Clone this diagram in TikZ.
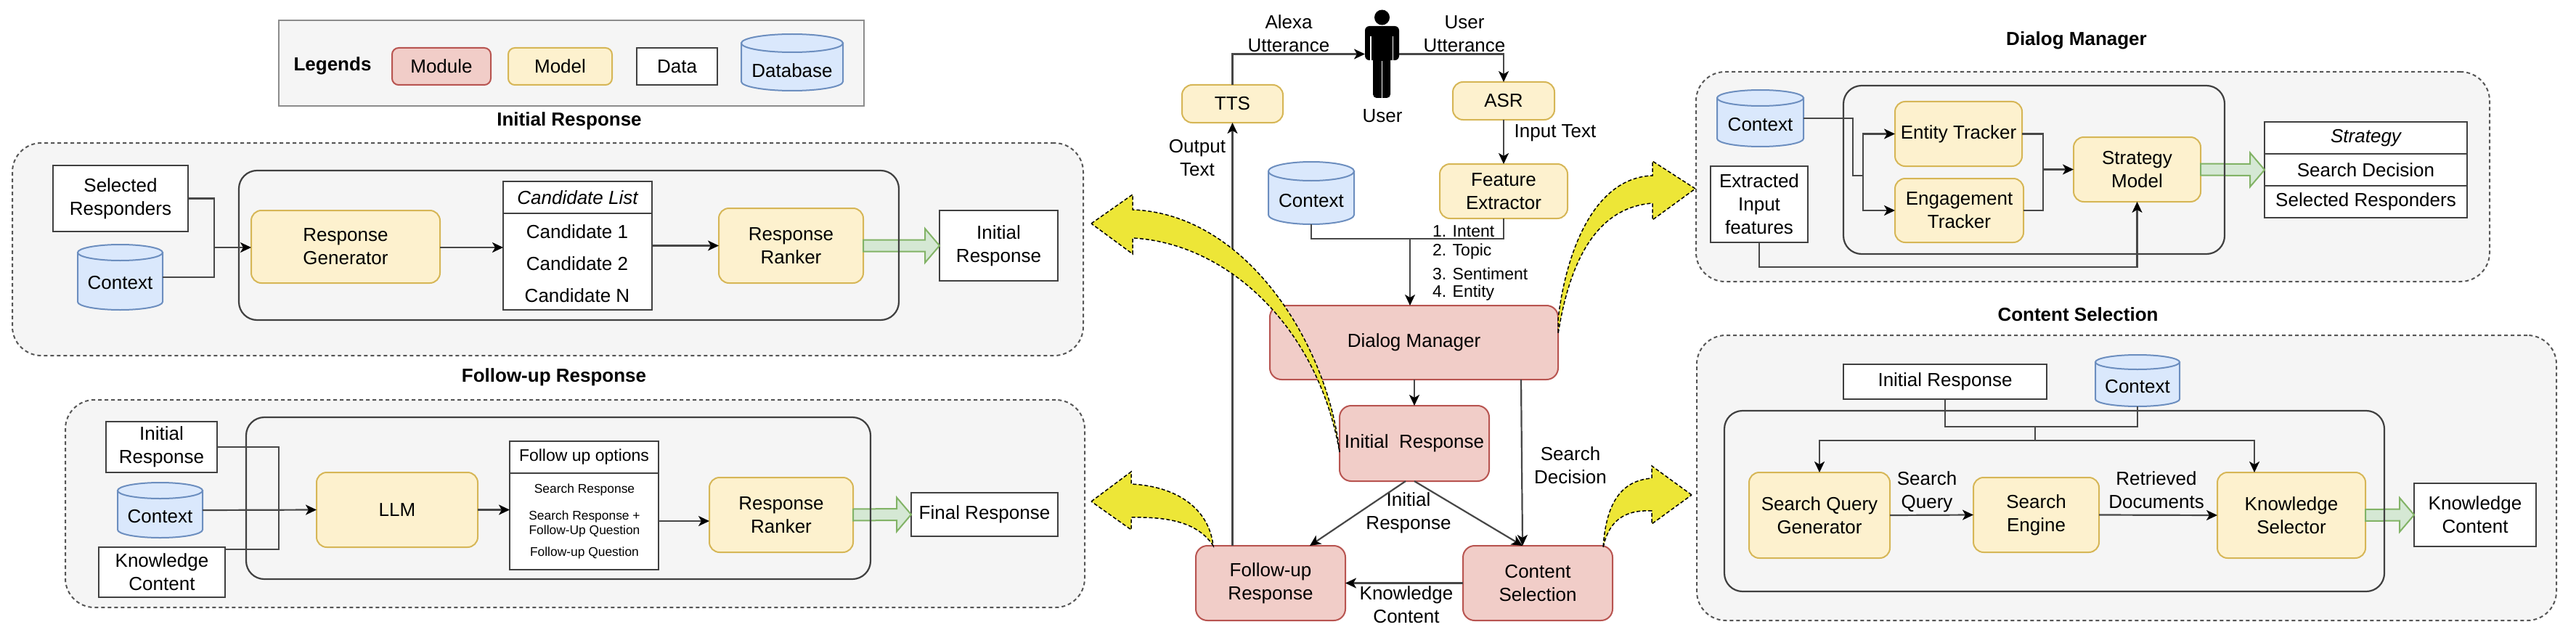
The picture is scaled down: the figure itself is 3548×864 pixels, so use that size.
\documentclass[tikz,border=0pt]{standalone}
\usepackage{fontspec}
\setmainfont{Liberation Sans}
\usetikzlibrary{arrows.meta,calc}
\definecolor{modf}{HTML}{F1CDC8}\definecolor{mods}{HTML}{B85450}
\definecolor{mdlf}{HTML}{FDF1CE}\definecolor{mdls}{HTML}{D6B656}
\definecolor{dbf}{HTML}{DAE8FC}\definecolor{dbs}{HTML}{6C8EBF}
\definecolor{panf}{HTML}{F5F5F5}\definecolor{pans}{HTML}{555555}
\definecolor{grf}{HTML}{D5E8D4}\definecolor{grs}{HTML}{82B366}
\definecolor{yel}{HTML}{EDE637}
\tikzset{
  every node/.style={font=\fontsize{26}{32}\selectfont,inner sep=0pt,outer sep=0pt,align=center},
  mod/.style={draw=mods,fill=modf,line width=2pt,rounded corners=16pt},
  mdl/.style={draw=mdls,fill=mdlf,line width=2pt,rounded corners=14pt},
  dat/.style={draw=black!75,fill=white,line width=2.2pt},
  ghost/.style={},
  panel/.style={draw=pans,fill=panf,line width=2pt,dash pattern=on 5pt off 4pt,rounded corners=40pt},
  inner/.style={draw=black!75,line width=2.2pt,rounded corners=25pt},
  lbox/.style={draw=black!45,fill=panf,line width=2.5pt},
  wire/.style={draw=black!72,line width=2.2pt},
  arr/.style={wire,-{Stealth[length=15pt,width=14pt,inset=4pt,fill=black,color=black]}},
  garrow/.style={draw=grs,fill=grf,line width=2pt},
  yarrow/.style={draw=black,fill=yel,line width=1.5pt,dash pattern=on 5pt off 3pt},
  dbshape/.style={draw=dbs,fill=dbf,line width=2pt},
  ttl/.style={font=\fontsize{26}{32}\selectfont\bfseries},
  mid/.style={font=\fontsize{23}{30}\selectfont},
  tiny/.style={font=\fontsize{17.4}{20}\selectfont},
}
\newcommand{\bx}[7]{%
  \pgfmathsetmacro\bxc{(#3+#5)/2}\pgfmathsetmacro\byc{(#4+#6)/2}%
  \pgfmathsetmacro\bxw{#5-#3}\pgfmathsetmacro\bxh{#6-#4}%
  \node[#1,minimum width=\bxw pt,minimum height=\bxh pt] (#2) at (\bxc,\byc) {#7};}
\newcommand{\cyl}[8]{%
  \pgfmathsetmacro\bxc{(#2+#4)/2}\pgfmathsetmacro\byc{(#3+#5)/2}%
  \pgfmathsetmacro\bxw{#4-#2}\pgfmathsetmacro\bxh{#5-#3}%
  \pgfmathsetmacro\crx{(#4-#2)/2}\pgfmathsetmacro\cky{#3+#6}\pgfmathsetmacro\clo{#5-#6}%
  \pgfmathsetmacro\cla{#5-0.45*#6}\pgfmathsetmacro\cxa{\bxc-0.55*\crx}\pgfmathsetmacro\cxb{\bxc+0.55*\crx}%
  \draw[dbshape] (#2,\cky) -- (#2,\clo) .. controls (#2,\cla) and (\cxa,#5) .. (\bxc,#5)
     .. controls (\cxb,#5) and (#4,\cla) .. (#4,\clo) -- (#4,\cky) -- cycle;
  \draw[dbshape] (\bxc,\cky) ellipse [x radius=\crx, y radius=#6];
  \node[minimum width=\bxw pt,minimum height=\bxh pt] (#1) at (\bxc,\byc) {};
  \node (#1-t) at (\bxc,#7) {#8};}
\newcommand{\gar}[4]{%
  \path[garrow] ($(#1)+(0,-#4)$) -- ($(#2)+(-20,-#4)$) -- ($(#2)+(-20,-#3)$) -- (#2)
     -- ($(#2)+(-20,#3)$) -- ($(#2)+(-20,#4)$) -- ($(#1)+(0,#4)$) -- cycle;}
\begin{document}
\begin{tikzpicture}[x=1pt,y=-1pt]
\fill[white] (0,0) rectangle (3548,864);
\useasboundingbox (0,0) rectangle (3548,864);
% ---------- legend
\bx{lbox}{legend}{384}{28}{1190}{146}{}
\node[ttl] (legt) at (458,91) {Legends};
\bx{mod,rounded corners=9pt}{lmod}{540}{66}{676}{117}{Module}
\bx{mdl,rounded corners=9pt}{lmdl}{700}{66}{843}{117}{Model}
\bx{dat}{ldat}{877}{66}{988}{117}{Data}
\cyl{ldb}{1021}{47}{1161}{125}{12.5}{97}{Database}
% ---------- panels
\node[ttl] (t1) at (784,167) {Initial Response};
\bx{panel}{p1}{17}{197}{1492}{490}{}
\node[ttl] (t2) at (763,520) {Follow-up Response};
\bx{panel}{p2}{90}{551}{1494}{837}{}
\node[ttl] (t3) at (2860,56) {Dialog Manager};
\bx{panel}{p3}{2336}{99}{3429}{388}{}
\node[ttl] (t4) at (2862,433) {Content Selection};
\bx{panel}{p4}{2337}{462}{3521}{855}{}
% ---------- initial response panel
\bx{dat}{sr}{73}{228}{259}{319}{Selected\\Responders}
\cyl{c1}{107}{337}{224}{427}{11}{390}{Context}
\bx{mdl}{rg}{346}{290}{606}{390}{Response\\Generator}
\bx{dat}{clb}{693}{294}{898}{427}{}
\bx{dat}{clh}{693}{250}{898}{294}{\itshape Candidate List}
\node (c1a) at (795,319) {Candidate 1};
\node (c1b) at (795,363) {Candidate 2};
\node (c1c) at (795,407) {Candidate N};
\bx{mdl}{rr1}{990}{287}{1189}{390}{Response\\Ranker}
\bx{dat}{ir1}{1294}{290}{1457}{387}{Initial\\Response}
\gar{rr1.east}{ir1.west}{23.5}{8}
\bx{inner}{in1}{329}{235}{1238}{441}{}
\coordinate (j1) at (295,341);
\draw[wire] (sr.east) -| (j1);
\draw[wire] (c1.east) -| (j1);
\draw[arr] (j1) -- (rg.west |- j1);
\draw[arr] (rg.east |- j1) -- (clb.west |- j1);
\draw[arr] (clb.east |- rr1.west) -- (rr1.west);
% ---------- follow-up panel
\bx{dat}{ir2}{146}{581}{299}{651}{Initial\\Response}
\cyl{c2}{162}{665}{279}{741}{11}{712}{Context}
\bx{dat}{kc2}{136}{754}{310}{823}{Knowledge\\Content}
\bx{mdl}{llm}{436}{651}{658}{754}{LLM}
\bx{dat}{fob}{702}{652}{907}{785}{}
\bx{dat}{foh}{702}{608}{907}{652}{\fontsize{23}{28}\selectfont Follow up options}
\node[tiny] (f1) at (805,675) {Search Response};
\node[tiny] (f2) at (805,722) {Search Response +\\Follow-Up Question};
\node[tiny] (f3) at (805,762) {Follow-up Question};
\bx{mdl}{rr2}{977}{658}{1175}{761}{Response\\Ranker}
\bx{dat}{fr}{1255}{679}{1457}{739}{Final Response}
\gar{rr2.east}{fr.west}{23.5}{8}
\bx{inner}{in2}{339}{575}{1199}{798}{}
\coordinate (j2) at (384,703);
\coordinate (kc2o) at (310,757);
\draw[wire] (ir2.east) -| (j2);
\draw[wire] (kc2o) -| (j2);
\draw[arr] (c2.east) -- (llm.west);
\draw[arr] (llm.east) -- (fob.west |- llm.east);
\coordinate (j2b) at (907,718);
\draw[arr] (j2b) -- (rr2.west |- j2b);
% ---------- centre
\bx{mdl}{tts}{1628}{117}{1767}{169}{TTS}
\bx{mdl}{asr}{2001}{113}{2141}{165}{ASR}
\bx{ghost}{user}{1880}{14}{1927}{135}{}
\fill[black] (1903.5,24) ellipse [x radius=10.5, y radius=10.5];
\fill[black,rounded corners=6pt] (1880,83) rectangle (1927,36);
\fill[black,rounded corners=5pt] (1891,135) rectangle (1915,40);
\draw[white,line width=1.8pt] (1888,50) -- (1888,84) (1918.5,50) -- (1918.5,84) (1903.5,84) -- (1903.5,136);
\node (usr) at (1904,160) {User};
\node (alx) at (1775,46) {Alexa\\Utterance};
\node (uut) at (2017,47) {User\\Utterance};
\node (int) at (2142,183) {Input Text};
\bx{mdl}{fe}{1983}{226}{2159}{301}{Feature\\Extractor}
\node (otx) at (1649,218) {Output\\Text};
\cyl{cc}{1747}{223}{1865}{309}{13}{277}{Context}
\bx{mod}{dm}{1749}{421}{2146}{523}{Dialog Manager}
\node[mid,anchor=west] (i1) at (1973,319) {1. Intent};
\node[mid,anchor=west] (i2) at (1973,347) {2. Topic};
\node[mid,anchor=west] (i3) at (1973,377) {3. Sentiment};
\node[mid,anchor=west] (i4) at (1973,404) {4. Entity};
\bx{mod}{irm}{1845}{559}{2051}{663}{Initial\ \ Response}
\bx{mod}{fu}{1647}{752}{1853}{855}{Follow-up\\Response}
\bx{mod}{cs}{2015}{752}{2221}{855}{Content\\Selection}
\node (sd) at (2163,641) {Search\\Decision};
\node (irl) at (1940,707) {Initial\\Response};
\node (kcl) at (1937,833) {Knowledge\\Content};
\draw[arr] (tts.north) |- (user.west);
\draw[arr] (user.east) -| (asr.north);
\draw[arr] (asr.south) -- (fe.north);
\coordinate (jc) at (1942,329);
\draw[wire] (cc.south) |- (jc);
\draw[wire] (fe.south) |- (jc);
\draw[arr] (jc) -- (jc |- dm.north);
\draw[arr] (dm.south -| irm.north) -- (irm.north);
\coordinate (dmo) at (2095,523);
\coordinate (csi) at (2097,752);
\draw[arr] (dmo) -- (csi);
\coordinate (iro) at (1936,663);
\coordinate (fui) at (1804,752);
\draw[arr] (iro) -- (fui);
\draw[arr] (irm.south) -- (csi);
\draw[arr] (cs.west) -- (fu.east);
\draw[arr] (tts.south |- fu.north) -- (tts.south);
% ---------- dialog manager panel
\cyl{c3}{2365}{124}{2484}{202}{11}{172}{Context}
\bx{dat}{ex}{2356}{229}{2490}{334}{Extracted\\Input\\features}
\bx{mdl}{et}{2610}{140}{2785}{229}{Entity Tracker}
\bx{mdl}{eng}{2610}{246}{2787}{334}{Engagement\\Tracker}
\bx{mdl}{sm}{2856}{189}{3031}{278}{Strategy\\Model}
\bx{dat}{s1}{3119}{168}{3398}{212}{\itshape Strategy}
\bx{dat}{s2}{3119}{212}{3398}{256}{Search Decision}
\bx{dat}{s3}{3119}{256}{3398}{300}{Selected Responders}
\gar{sm.east}{s2.west}{23.5}{8}
\bx{inner}{in3}{2539}{118}{3064}{350}{}
\coordinate (j31) at (2552,242);
\coordinate (j32) at (2566,242);
\coordinate (j33) at (2814,233.5);
\coordinate (ex3) at (2423,368);
\draw[wire] (c3.east) -| (j31) -- (j32);
\draw[arr] (j32) |- (et.west);
\draw[arr] (j32) |- (eng.west);
\draw[wire] (et.east) -| (j33);
\draw[wire] (eng.east) -| (j33);
\draw[arr] (j33) -- (sm.west);
\draw[arr] (ex.south) -- (ex3) -| (sm.south);
% ---------- content selection panel
\bx{dat}{ir4}{2539}{502}{2819}{550}{Initial Response}
\cyl{c4}{2886}{489}{3002}{560}{10}{533}{Context}
\bx{mdl}{sq}{2409}{651}{2603}{769}{Search Query\\Generator}
\bx{mdl}{se}{2718}{658}{2891}{761}{Search\\Engine}
\bx{mdl}{ks}{3054}{651}{3258}{769}{Knowledge\\Selector}
\bx{dat}{kc4}{3325}{666}{3493}{753}{Knowledge\\Content}
\node (sql) at (2654,678) {Search\\Query};
\node (rdl) at (2970,675) {Retrieved\\Documents};
\gar{ks.east}{kc4.west}{23.5}{8}
\bx{inner}{in4}{2375}{566}{3284}{815}{}
\coordinate (j41) at (2803,588);
\coordinate (j42) at (2803,607);
\coordinate (ksi) at (3105,651);
\draw[wire] (ir4.south) |- (j41);
\draw[wire] (c4.south) |- (j41);
\draw[wire] (j41) -- (j42);
\draw[arr] (j42) -| (sq.north);
\draw[arr] (j42) -| (ksi);
\draw[arr] (sq.east) -- (se.west);
\draw[arr] (se.east) -- (ks.west);
% ---------- yellow arrows
\path[yarrow] (1503,308) -- (1560,268) -- (1560,289) .. controls (1720,295) and (1830,480) .. (1845,623)
   .. controls (1815,450) and (1690,335) .. (1560,328) -- (1560,350) -- cycle;
\path[yarrow] (1503,691) -- (1558,650) -- (1558,667) .. controls (1620,670) and (1665,700) .. (1671,752)
   .. controls (1650,720) and (1610,712) .. (1558,713) -- (1558,730) -- cycle;
\path[yarrow] (2335,260) -- (2276,222) -- (2276,242) .. controls (2190,245) and (2155,360) .. (2146,440)
   -- (2146,460) .. controls (2165,340) and (2210,285) .. (2276,280) -- (2276,303) -- cycle;
\path[yarrow] (2330,682) -- (2275,642) -- (2275,659) .. controls (2235,662) and (2212,690) .. (2208,755)
   .. controls (2215,720) and (2235,702) .. (2275,704) -- (2275,722) -- cycle;
\end{tikzpicture}
\end{document}
